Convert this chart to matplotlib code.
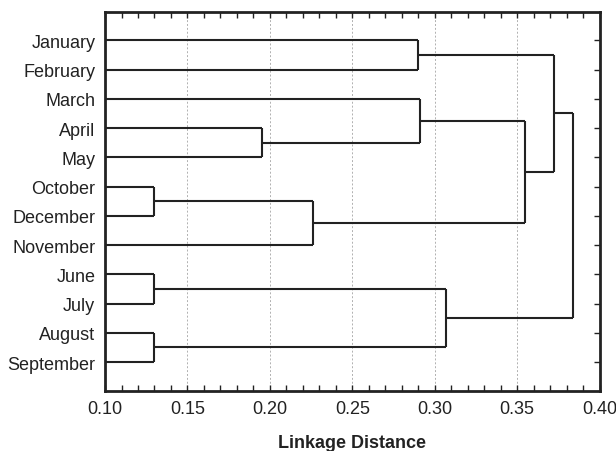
import matplotlib
matplotlib.use("Agg")
from matplotlib import pyplot as plt
from matplotlib.ticker import MultipleLocator

plt.rcParams['font.family'] = ['Liberation Sans', 'DejaVu Sans']

leaves = ["January", "February", "March", "April", "May", "October",
          "December", "November", "June", "July", "August", "September"]

# each merge joins two clusters (leaf name or earlier merge "C<n>") at a linkage distance
merge_left = ["January", "April", "March", "October", "C4", "C3", "C1", "June", "August", "C8", "C7"]
merge_right = ["February", "May", "C2", "December", "November", "C5", "C6", "July", "September", "C9", "C10"]
merge_dist = [0.290, 0.195, 0.291, 0.130, 0.226, 0.355, 0.372, 0.130, 0.130, 0.307, 0.384]

x_min, x_max = 0.10, 0.40
line_color = "#222222"

fig = plt.figure(figsize=(6.16, 4.52), dpi=100)
ax = fig.add_axes([0.1705, 0.1334, 0.803, 0.838])

pos = {}
for i, name in enumerate(leaves):
    pos[name] = (x_min, i)

for k in range(len(merge_dist)):
    lx, ly = pos[merge_left[k]]
    rx, ry = pos[merge_right[k]]
    d = merge_dist[k]
    ax.plot([lx, d], [ly, ly], color=line_color, lw=1.5, solid_capstyle='butt')
    ax.plot([rx, d], [ry, ry], color=line_color, lw=1.5, solid_capstyle='butt')
    ax.plot([d, d], [ly, ry], color=line_color, lw=1.5, solid_capstyle='butt')
    pos["C" + str(k + 1)] = (d, (ly + ry) / 2)

ax.set_xlim(x_min, x_max)
ax.set_ylim(11.98, -0.97)
ax.set_yticks(range(len(leaves)))
ax.set_yticklabels(leaves, fontsize=13, color="#222222")

ax.xaxis.set_major_locator(MultipleLocator(0.05))
ax.xaxis.set_minor_locator(MultipleLocator(0.01))
ax.set_xticklabels(["%.2f" % v for v in ax.get_xticks()])
ax.tick_params(axis='x', which='both', direction='in', top=True, bottom=True,
               length=4, width=1, labelsize=13, pad=7, colors="#222222")
ax.tick_params(axis='y', direction='in', left=False, right=True, length=4, width=1,
               pad=7, colors="#222222")

for v in [0.15, 0.20, 0.25, 0.30, 0.35]:
    ax.axvline(v, color="#b0b0b0", lw=0.7, ls=(0, (2, 2)), zorder=0)

for s in ax.spines.values():
    s.set_linewidth(2)
    s.set_color("#222222")

ax.set_xlabel("Linkage Distance", fontsize=13, fontweight='bold', labelpad=12, color="#222222")

plt.savefig("out.png", dpi=100)
plt.close()
